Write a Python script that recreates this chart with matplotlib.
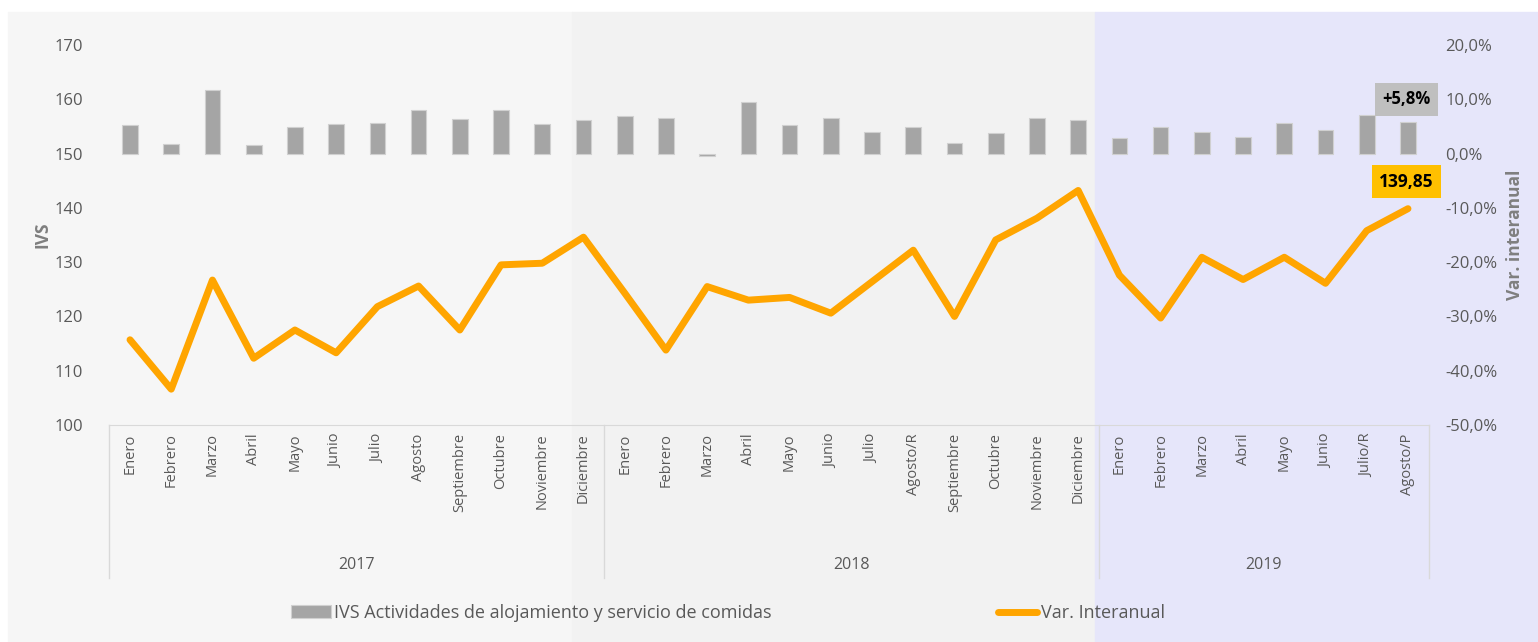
import matplotlib.pyplot as plt
import matplotlib.transforms as mtransforms
from matplotlib.patches import Rectangle
from matplotlib.ticker import FuncFormatter, MultipleLocator

plt.rcParams["font.family"] = ["Open Sans", "DejaVu Sans"]

# 数据
years = ["2017", "2018", "2019"]
months_2017 = ["Enero", "Febrero", "Marzo", "Abril", "Mayo", "Junio", "Julio",
               "Agosto", "Septiembre", "Octubre", "Noviembre", "Diciembre"]
months_2018 = ["Enero", "Febrero", "Marzo", "Abril", "Mayo", "Junio", "Julio",
               "Agosto/R", "Septiembre", "Octubre", "Noviembre", "Diciembre"]
months_2019 = ["Enero", "Febrero", "Marzo", "Abril", "Mayo", "Junio", "Julio/R",
               "Agosto/P"]
ivs = [115.7, 106.6, 126.7, 112.3, 117.5, 113.3, 121.8, 125.6, 117.5, 129.5, 129.8, 134.6,
       124.3, 113.8, 125.5, 123.0, 123.5, 120.6, 126.4, 132.2, 120.0, 134.1, 138.1, 143.2,
       127.6, 119.7, 130.9, 126.8, 130.9, 126.1, 135.8, 139.85]
var_interanual = [5.2, 1.8, 11.7, 1.5, 4.9, 5.5, 5.7, 8.0, 6.3, 8.0, 5.5, 6.1,
                  6.9, 6.6, -0.5, 9.5, 5.2, 6.6, 4.0, 4.9, 2.0, 3.7, 6.6, 6.1,
                  2.9, 4.9, 4.0, 3.1, 5.7, 4.3, 7.1, 5.8]
bar_label = "IVS Actividades de alojamiento y servicio de comidas"
line_label = "Var. Interanual"

labels = months_2017 + months_2018 + months_2019
group_sizes = [len(months_2017), len(months_2018), len(months_2019)]
x = list(range(len(labels)))

W, H = 1538, 642
fig = plt.figure(figsize=(W / 100, H / 100), dpi=100)

# 背景色块（按年份）
bg = [(8, 572, "#f6f6f6"), (572, 1095, "#f2f2f2"), (1095, W, "#e6e6fa")]
for x0, x1, c in bg:
    fig.patches.append(Rectangle((x0 / W, 0), (x1 - x0) / W, 1 - 12 / H,
                                 transform=fig.transFigure, color=c, zorder=-5))

ax = fig.add_axes([109.4 / W, 1 - 425 / H, 1319.2 / W, 380 / H])
ax2 = ax.twinx()
ax2.set_zorder(1)
ax.set_zorder(2)
ax.patch.set_visible(False)
ax2.patch.set_visible(False)

tick_color = "#595959"
label_color = "#7f7f7f"

# 柱状图（右轴）
bars = ax2.bar(x, var_interanual, width=0.38, color="#a5a5a5",
               edgecolor="#d0d0d0", linewidth=0.8, label=bar_label)
ax2.set_ylim(-50, 20)
ax2.yaxis.set_major_locator(MultipleLocator(10))
ax2.yaxis.set_major_formatter(FuncFormatter(lambda v, p: f"{v:.1f}%".replace(".", ",")))
ax2.tick_params(axis="y", length=0, pad=12, labelsize=12, labelcolor=tick_color)
for lab in ax2.get_yticklabels():
    lab.set_horizontalalignment("left")
ax2.set_ylabel("Var. interanual", color=label_color, fontweight="bold",
               fontsize=12.5, labelpad=6)

# 折线（左轴）
line, = ax.plot(x, ivs, color="#ffa500", linewidth=5, solid_joinstyle="round",
                solid_capstyle="round", label=line_label)
ax.set_ylim(100, 170)
ax.set_xlim(-0.5, len(labels) - 0.5)
ax.yaxis.set_major_locator(MultipleLocator(10))
ax.tick_params(axis="y", length=0, pad=19, labelsize=12, labelcolor=tick_color)
ax.set_ylabel("IVS", color=label_color, fontweight="bold", fontsize=12.5, labelpad=2)

ax.set_xticks(x)
ax.set_xticklabels(labels, rotation=90, va="top", ha="center")
ax.tick_params(axis="x", length=0, pad=6, labelsize=10.5, labelcolor=tick_color)
ax2.tick_params(axis="x", length=0)

for a in (ax, ax2):
    for s in a.spines.values():
        s.set_visible(False)
ax.spines["bottom"].set_visible(True)
ax.spines["bottom"].set_color("#d9d9d9")

# 年份分组线与标签
trans = mtransforms.blended_transform_factory(ax.transData, ax.transAxes)
sep_bottom = -153 / 380
start = 0
bounds = [-0.5]
for yr, n in zip(years, group_sizes):
    end = start + n
    bounds.append(end - 0.5)
    ax.text((start + end - 1) / 2, -140 / 380, yr, transform=trans,
            ha="center", va="center", fontsize=11.5, color=tick_color)
    start = end
for b in bounds:
    ax.plot([b, b], [0, sep_bottom], transform=trans, color="#d9d9d9",
            linewidth=1, clip_on=False)

# 数据标签
ax2.annotate(f"+{var_interanual[-1]:.1f}%".replace(".", ","),
             (x[-1], var_interanual[-1]), xytext=(-1, 16.5), textcoords="offset points",
             ha="center", va="center", fontsize=12, fontweight="bold", color="black",
             bbox=dict(boxstyle="square,pad=0.45", fc="#bfbfbf", ec="none"))
ax.annotate(f"{ivs[-1]:.2f}".replace(".", ","),
            (x[-1], ivs[-1]), xytext=(-1, 19.5), textcoords="offset points",
            ha="center", va="center", fontsize=12.5, fontweight="bold", color="black",
            bbox=dict(boxstyle="square,pad=0.42", fc="#ffc000", ec="none"))

fig.legend(handles=[bars, line], loc="center", bbox_to_anchor=(728 / W, 1 - 613 / H),
           ncol=2, frameon=False, fontsize=13, columnspacing=12.5, handlelength=2.2,
           handletextpad=0.2, labelcolor=tick_color)

fig.savefig("out.png", dpi=100)
